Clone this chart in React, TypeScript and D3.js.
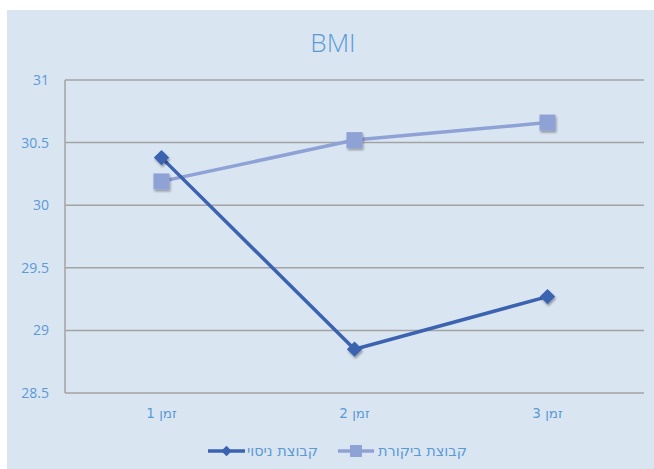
import * as d3 from 'd3';

const categories = ['זמן 1', 'זמן 2', 'זמן 3'];
const trialValues = [30.38, 28.85, 29.27];
const controlValues = [30.19, 30.52, 30.66];
const yTicks = [28.5, 29, 29.5, 30, 30.5, 31];
const seriesNames = ['קבוצת ניסוי', 'קבוצת ביקורת'];

const W = 654;
const H = 469;
const margin = { top: 80, right: 10, bottom: 76, left: 65 };
const plotRight = 644;

const textColor = '#5b9bd5';
const darkBlue = '#3b63b0';
const lightBlue = '#8fa2d6';
const font = '"Open Sans", "Noto Sans", sans-serif';
const hebFont = '"DejaVu Sans", sans-serif';

function App() {
  const x = d3.scaleBand().domain(categories).range([margin.left, plotRight]);
  const y = d3.scaleLinear().domain([28.5, 31]).range([H - margin.bottom, margin.top]);

  const line = d3
    .line<number>()
    .x((_, i) => (x(categories[i]) ?? 0) + x.bandwidth() / 2)
    .y((d) => y(d));

  const diamond = d3.symbol(d3.symbolDiamond2, 150)();

  return (
    <svg
      width={W}
      height={H}
      style={{ position: 'absolute', left: 0, top: 0, display: 'block' }}
      fontFamily={font}
    >
      <defs>
        <filter id="shadow" x="-50%" y="-50%" width="200%" height="200%">
          <feDropShadow dx="1" dy="2" stdDeviation="1.2" floodColor="#000" floodOpacity="0.35" />
        </filter>
      </defs>
      <rect x={0} y={0} width={W} height={H} fill="#fff" />
      <rect x={7} y={10} width={W - 7} height={H - 10} fill="#dae5f2" />

      <text x={333} y={52} textAnchor="middle" fontSize={26} fontWeight={300} fill={textColor}>
        BMI
      </text>

      {/* gridlines and y labels */}
      {yTicks.map((t) => (
        <g key={t}>
          <line x1={margin.left} x2={plotRight} y1={y(t)} y2={y(t)} stroke="#a3a3a3" strokeWidth={1.5} />
          <text x={49} y={y(t)} dy="0.35em" textAnchor="end" fontSize={14} fill={textColor}>
            {t}
          </text>
        </g>
      ))}
      <line x1={margin.left} x2={margin.left} y1={y(31)} y2={y(28.5)} stroke="#a3a3a3" strokeWidth={1.5} />

      {categories.map((c) => (
        <text
          key={c}
          x={(x(c) ?? 0) + x.bandwidth() / 2}
          y={413}
          dy="0.35em"
          textAnchor="middle"
          direction="rtl"
          fontSize={13.5}
          fontFamily={hebFont}
          fill={textColor}
        >
          {c}
        </text>
      ))}

      {/* series */}
      <path d={line(controlValues) ?? ''} fill="none" stroke={lightBlue} strokeWidth={3.5} />
      <path d={line(trialValues) ?? ''} fill="none" stroke={darkBlue} strokeWidth={3.5} />

      {controlValues.map((v, i) => (
        <rect
          key={'c' + i}
          x={(x(categories[i]) ?? 0) + x.bandwidth() / 2 - 8}
          y={y(v) - 8}
          width={16}
          height={16}
          fill={lightBlue}
          filter="url(#shadow)"
        />
      ))}
      {trialValues.map((v, i) => (
        <path
          key={'t' + i}
          d={diamond ?? ''}
          transform={`translate(${(x(categories[i]) ?? 0) + x.bandwidth() / 2},${y(v)})`}
          fill={darkBlue}
          filter="url(#shadow)"
        />
      ))}

      {/* legend */}
      <g fontFamily={hebFont}>
        <line x1={208} x2={245} y1={451} y2={451} stroke={darkBlue} strokeWidth={3.5} />
        <path d={d3.symbol(d3.symbolDiamond2, 70)() ?? ''} transform="translate(226.5,451)" fill={darkBlue} />
        <text x={318} y={451} dy="0.35em" textAnchor="end" fontSize={14.5} fill={textColor}>
          {seriesNames[0]}
        </text>
        <line x1={338} x2={374} y1={451} y2={451} stroke={lightBlue} strokeWidth={3.5} />
        <rect x={350} y={445} width={12} height={12} fill={lightBlue} />
        <text x={467} y={451} dy="0.35em" textAnchor="end" fontSize={14.5} fill={textColor}>
          {seriesNames[1]}
        </text>
      </g>
    </svg>
  );
}

export default App;
